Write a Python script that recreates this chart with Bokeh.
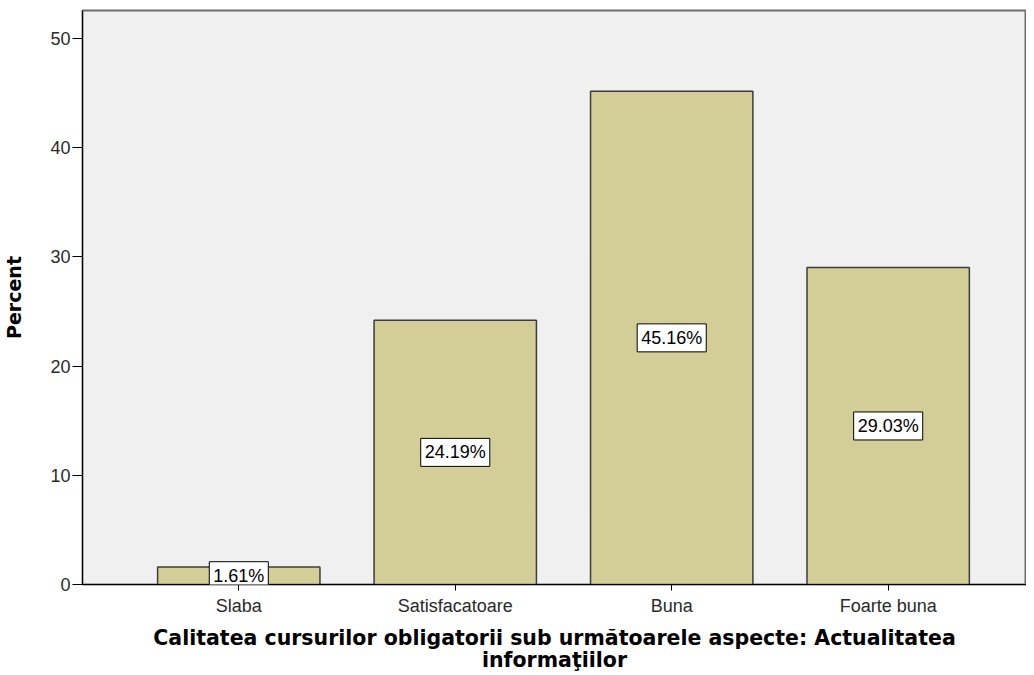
from bokeh.plotting import figure
from bokeh.models import ColumnDataSource, Label, Range1d, FixedTicker
from bokeh.embed import file_html
from bokeh.resources import INLINE

categories = ["Slaba", "Satisfacatoare", "Buna", "Foarte buna"]
percent = [1.61, 24.19, 45.16, 29.03]
label_texts = ["1.61%", "24.19%", "45.16%", "29.03%"]
y_ticks = [0, 10, 20, 30, 40, 50]

x_pos = list(range(len(categories)))
src = ColumnDataSource(dict(x=x_pos, top=percent))

p = figure(width=1026, height=675, output_backend="svg", toolbar_location=None,
           x_range=Range1d(-0.722, 3.639), y_range=Range1d(0, 52.55),
           min_border_top=10, min_border_right=0, min_border_left=78, min_border_bottom=6)

p.background_fill_color = "#f0f0f0"
p.border_fill_color = "white"
p.outline_line_color = "#6e6e6e"
p.outline_line_width = 2
p.grid.visible = False

p.vbar(x="x", top="top", width=0.75, bottom=0, source=src,
       fill_color="#d3ce97", line_color="#3c3c3c", line_width=1.5)

for xi, v, t in zip(x_pos, percent, label_texts):
    p.add_layout(Label(x=xi, y=v / 2, text=t,
                       text_align="center", text_baseline="middle",
                       text_font="Liberation Sans", text_font_size="18px",
                       text_color="black",
                       background_fill_color="white", border_line_color="black",
                       border_line_width=1, padding=4))

p.xaxis.ticker = FixedTicker(ticks=x_pos)
p.xaxis.major_label_overrides = {i: c for i, c in enumerate(categories)}
p.yaxis.ticker = FixedTicker(ticks=y_ticks)

for ax in (p.xaxis[0], p.yaxis[0]):
    ax.axis_line_color = "black"
    ax.axis_line_width = 1
    ax.major_tick_line_color = "black"
    ax.major_tick_in = 0
    ax.minor_tick_line_color = None
    ax.major_label_text_font = "Liberation Sans"
    ax.major_label_text_color = "#2a2a2a"
    ax.axis_label_text_font = "DejaVu Sans"
    ax.axis_label_text_font_style = "bold"
    ax.axis_label_text_color = "black"

p.xaxis.major_tick_out = 6
p.yaxis.major_tick_out = 10
p.xaxis.major_label_text_font_size = "18px"
p.yaxis.major_label_text_font_size = "18px"
p.xaxis.major_label_standoff = 5
p.yaxis.major_label_standoff = 2

p.xaxis.axis_label = "Calitatea cursurilor obligatorii sub următoarele aspecte: Actualitatea\ninformaţiilor"
p.xaxis.axis_label_text_font_size = "20.5px"
p.xaxis.axis_label_text_line_height = 0.95
p.xaxis.axis_label_standoff = 7
p.yaxis.axis_label = "Percent"
p.yaxis.axis_label_text_font_size = "19px"
p.yaxis.axis_label_standoff = 22

open("out.html", "w").write(file_html(p, INLINE))
